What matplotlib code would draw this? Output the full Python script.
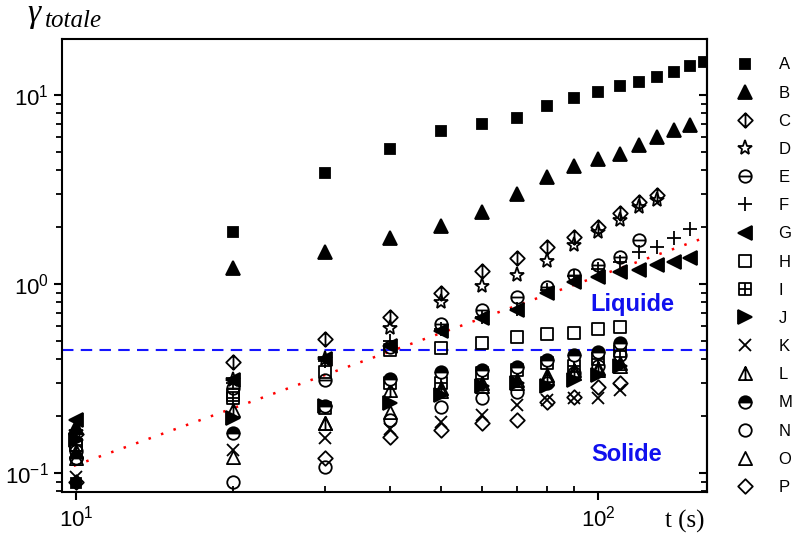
import numpy as np
import matplotlib
matplotlib.use("Agg")
import matplotlib.pyplot as plt
from matplotlib.path import Path
from matplotlib.ticker import LogLocator, NullFormatter

plt.rcParams["font.family"] = ["Liberation Sans", "DejaVu Sans"]
plt.rcParams["mathtext.default"] = "regular"

# ── data ─────────────────────────────────────────────────────────────────────
t = [10, 20, 30, 40, 50, 60, 70, 80, 90, 100, 110, 120, 130, 140, 150, 160]

A = [0.088, 1.88, 3.87, 5.18, 6.45, 7.02, 7.56, 8.75, 9.64, 10.4, 11.2, 11.7, 12.5, 13.2, 14.2, 14.9]
B = [0.175, 1.22, 1.48, 1.75, 2.03, 2.40, 2.99, 3.68, 4.21, 4.58, 4.87, 5.44, 6.00, 6.53, 6.94]
C = [0.16, 0.386, 0.512, 0.668, 0.896, 1.17, 1.37, 1.57, 1.77, 2.00, 2.38, 2.72, 2.96]
D = [0.165, 0.31, 0.40, 0.585, 0.803, 0.976, 1.12, 1.32, 1.61, 1.88, 2.18, 2.55, 2.78]
E = [0.13, 0.28, 0.31, 0.464, 0.614, 0.728, 0.853, 0.964, 1.12, 1.26, 1.39, 1.71]
F = [0.16, 0.30, 0.39, 0.50, 0.58, 0.67, 0.74, 0.93, 1.10, 1.20, 1.30, 1.48, 1.57, 1.75, 1.95]
G = [0.19, 0.31, 0.40, 0.47, 0.564, 0.661, 0.728, 0.896, 1.02, 1.09, 1.16, 1.19, 1.26, 1.31, 1.37]
H = [0.14, 0.259, 0.342, 0.448, 0.458, 0.488, 0.525, 0.544, 0.55, 0.578, 0.59]
I = [0.14, 0.25, 0.22, 0.30, 0.30, 0.34, 0.35, 0.38, 0.37, 0.40, 0.44]
J = [0.15, 0.195, 0.225, 0.235, 0.26, 0.29, 0.30, 0.29, 0.31, 0.33, 0.37]
K = [0.095, 0.133, 0.153, 0.17, 0.186, 0.203, 0.229, 0.243, 0.249, 0.25, 0.275]
L = [0.13, 0.216, 0.184, 0.275, 0.281, 0.30, 0.31, 0.32, 0.35, 0.36, 0.38]
M = [0.12, 0.163, 0.225, 0.314, 0.342, 0.35, 0.364, 0.396, 0.42, 0.436, 0.488]
N = [0.12, 0.0896, 0.108, 0.19, 0.223, 0.249, 0.268, 0.30, 0.34, 0.37, 0.42]
O = [0.12, 0.122, 0.184, 0.21, 0.27, 0.29, 0.30, 0.33, 0.34, 0.35, 0.37]
P = [0.09, np.nan, 0.12, 0.155, 0.169, 0.184, 0.191, 0.238, 0.252, 0.285, 0.299]

fit_t = [9.9, 162]          # red dotted power-law guide
fit_g = [0.109, 1.78]
gamma_c = 0.45              # liquid / solid boundary

# ── custom marker shapes ─────────────────────────────────────────────────────
def seg(a, b):
    return Path([a, b], [Path.MOVETO, Path.LINETO])

diamond = Path([(0, 1), (1, 0), (0, -1), (-1, 0), (0, 1)], closed=True)
square = Path([(-1, -1), (1, -1), (1, 1), (-1, 1), (-1, -1)], closed=True)
tri = Path([(0, 1), (1, -1), (-1, -1), (0, 1)], closed=True)

m_C = Path.make_compound_path(diamond, seg((0, 1), (0, -1)))
m_E = Path.make_compound_path(Path.unit_circle(), seg((-1, 0), (1, 0)))
m_I = Path.make_compound_path(square, seg((0, -1), (0, 1)), seg((-1, 0), (1, 0)))
m_L = Path.make_compound_path(tri, seg((0, 1), (0, -1)))

# name, values, marker, size, filled
series = [
    ("A", A, "s", 7.5, True),
    ("B", B, "^", 9.5, True),
    ("C", C, m_C, 10.5, False),
    ("D", D, "*", 11, False),
    ("E", E, m_E, 9, False),
    ("F", F, "+", 10, False),
    ("G", G, "<", 9.5, True),
    ("H", H, square, 8, False),
    ("I", I, m_I, 8, False),
    ("J", J, ">", 9.5, True),
    ("K", K, "x", 8.5, False),
    ("L", L, m_L, 9.5, False),
    ("M", M, "o", 9, "half"),
    ("N", N, "o", 9, False),
    ("O", O, tri, 9.5, False),
    ("P", P, diamond, 10.5, False),
]

# ── figure ───────────────────────────────────────────────────────────────────
fig = plt.figure(figsize=(7.92, 5.42), dpi=100)
ax = fig.add_axes([0.0783, 0.0923, 0.8144, 0.8357])

for name, vals, mk, ms, filled in series:
    kw = dict(ls="none", marker=mk, ms=ms, mec="black", mew=1.3, label=name, zorder=3)
    if filled is True:
        kw.update(mfc="black")
    elif filled == "half":
        kw.update(mfc="black", fillstyle="top", markerfacecoloralt="white")
    else:
        kw.update(mfc="none")
    ax.plot(t[:len(vals)], vals, **kw)

ax.plot(fit_t, fit_g, color="red", lw=1.8, ls=(0, (1, 4.3)), zorder=2)
ax.axhline(gamma_c, color="#1515ff", lw=1.5, ls=(0, (5.5, 3.5)), zorder=2)

ax.set_xscale("log")
ax.set_yscale("log")
ax.set_xlim(9.40, 161.8)
ax.set_ylim(0.0793, 19.8)

ax.xaxis.set_minor_locator(LogLocator(base=10, subs=np.arange(2, 10)))
ax.yaxis.set_minor_locator(LogLocator(base=10, subs=np.arange(2, 10)))
ax.xaxis.set_minor_formatter(NullFormatter())
ax.yaxis.set_minor_formatter(NullFormatter())

for sp in ax.spines.values():
    sp.set_linewidth(1.5)
ax.tick_params(axis="both", which="major", labelsize=16, width=1.5, length=6, direction="out")
ax.tick_params(axis="y", which="minor", width=1.3, length=4, direction="out")
ax.tick_params(axis="x", which="minor", width=1.3, length=4, direction="in")

# right-hand ticks point inward
sec = ax.secondary_yaxis("right")
sec.yaxis.set_minor_locator(LogLocator(base=10, subs=np.arange(2, 10)))
sec.yaxis.set_major_formatter(NullFormatter())
sec.yaxis.set_minor_formatter(NullFormatter())
sec.tick_params(which="major", direction="in", length=6, width=1.5)
sec.tick_params(which="minor", direction="in", length=4, width=1.3)
sec.spines["right"].set_linewidth(1.5)

ax.text(0.885, 0.413, "Liquide", transform=ax.transAxes, color="#1010ee",
        fontsize=17, fontweight="bold", ha="center", va="center")
ax.text(0.876, 0.082, "Solide", transform=ax.transAxes, color="#1010ee",
        fontsize=17, fontweight="bold", ha="center", va="center")

fig.text(0.034, 0.959, "γ", fontsize=24, family="Liberation Serif", style="italic",
         ha="left", va="baseline")
fig.text(0.057, 0.950, "totale", fontsize=18, family="Liberation Serif", style="italic",
         ha="left", va="baseline")
fig.text(0.864, 0.037, "t (s)", fontsize=18, ha="center", va="center",
         family="Liberation Serif")

fig.legend(loc="upper left", bbox_to_anchor=(0.930, 0.894), frameon=False,
           fontsize=12, handlelength=1.0, handletextpad=1.52,
           labelspacing=0.79, borderaxespad=0, borderpad=0)

fig.savefig("out.png", dpi=100)
